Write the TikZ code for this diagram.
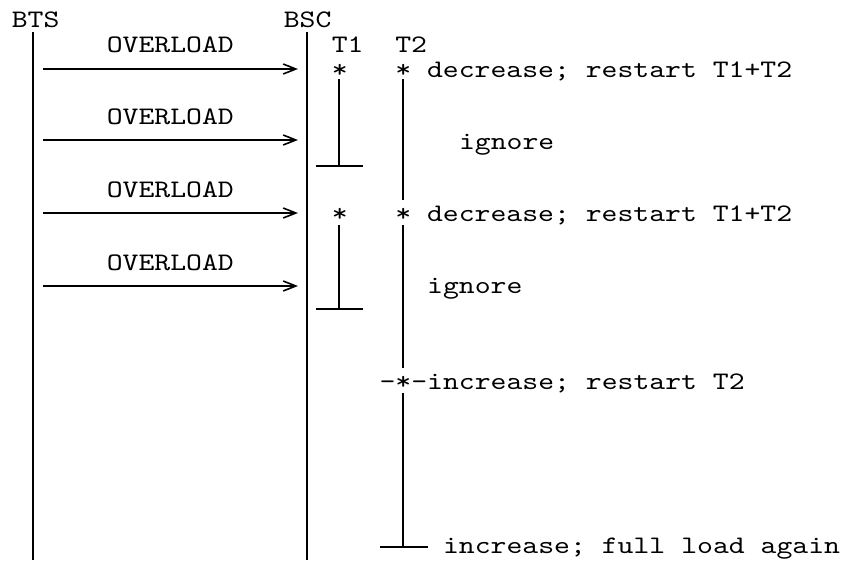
\documentclass[tikz,border=0pt]{standalone}
\usepackage{fontspec}
\usepackage{tikz}
\usetikzlibrary{arrows.meta}
\newfontfamily\monofnt{lmmono10-regular.otf}[FakeStretch=1.2]
\newcommand{\ascii}{\monofnt\fontsize{18.9pt}{24pt}\selectfont\frenchspacing}

\begin{document}
\begin{tikzpicture}[x=0.75pt,y=-0.75pt,line width=1.2pt,
  txt/.style={inner sep=0pt,anchor=base west,font=\ascii},
  msg/.style={-{Straight Barb[length=9.5pt,width=7.5pt]}}]
  \useasboundingbox (0,0) rectangle (848,560);
  \node[txt] (bts) at (11,28) {BTS};
  \node[txt] (bsc) at (283,28) {BSC};
  \node[txt] (tmr) at (331,53) {T1~~T2};
  % lifelines
  \coordinate (bts-top) at (33,32);
  \coordinate (bts-end) at (33,560);
  \coordinate (bsc-top) at (307,32);
  \coordinate (bsc-end) at (307,560);
  \draw (bts-top) -- (bts-end);
  \draw (bsc-top) -- (bsc-end);
  % messages
  \foreach \i/\y in {1/69,2/140,3/213,4/286} {
    \node[txt] (ov\i) at (106,\y-16) {OVERLOAD};
    \coordinate (m\i-a) at (43,\y);
    \coordinate (m\i-b) at (298,\y);
    \draw[msg] (m\i-a) -- (m\i-b);
  }
  % timer events
  \node[txt] (ev1) at (331,77) {*~~~*~decrease;~restart~T1+T2};
  \node[txt] (ig1) at (458.2,149) {ignore};
  \node[txt] (ev2) at (331,221) {*~~~*~decrease;~restart~T1+T2};
  \node[txt] (ig2) at (426.4,293) {ignore};
  \node[txt] (ev3) at (378.7,389) {-*-increase;~restart~T2};
  \node[txt] (ev4) at (442.3,553) {increase;~full~load~again};
  % T1
  \foreach \k/\a/\b in {1/79/166,2/225/309} {
    \coordinate (t1-\k-top) at (339,\a);
    \coordinate (t1-\k-end) at (339,\b);
    \coordinate (t1-\k-l) at (316,\b);
    \coordinate (t1-\k-r) at (363,\b);
    \draw (t1-\k-top) -- (t1-\k-end);
    \draw (t1-\k-l) -- (t1-\k-r);
  }
  % T2
  \foreach \k/\a/\b in {1/79/200,2/225/368,3/393/547} {
    \coordinate (t2-\k-top) at (403,\a);
    \coordinate (t2-\k-end) at (403,\b);
    \draw (t2-\k-top) -- (t2-\k-end);
  }
  \coordinate (t2-l) at (380,547);
  \coordinate (t2-r) at (428,547);
  \draw (t2-l) -- (t2-r);
\end{tikzpicture}
\end{document}
